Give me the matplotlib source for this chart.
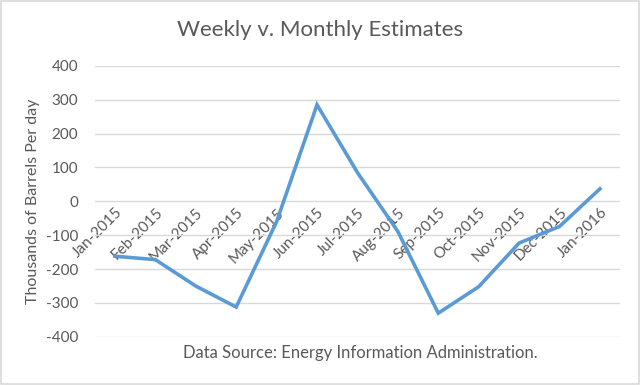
import matplotlib.pyplot as plt

months = ["Jan-2015", "Feb-2015", "Mar-2015", "Apr-2015", "May-2015", "Jun-2015",
          "Jul-2015", "Aug-2015", "Sep-2015", "Oct-2015", "Nov-2015", "Dec-2015",
          "Jan-2016"]
estimates = [-162, -172, -250, -312, -60, 285, 85, -89, -330, -252, -123, -74, 37]
y_ticks = [-400, -300, -200, -100, 0, 100, 200, 300, 400]

plt.rcParams['font.family'] = ['Lato', 'DejaVu Sans']
text_col = '#595959'

fig = plt.figure(figsize=(6.4, 3.85), dpi=100)
ax = fig.add_axes([0.148, 0.125, 0.821, 0.704])

# light frame around the whole chart
fig.patches.append(plt.Rectangle((0.002, 0.003), 0.996, 0.994, transform=fig.transFigure,
                                 fill=False, edgecolor='#D9D9D9', linewidth=1.2))

x = list(range(len(months)))
ax.plot(x, estimates, color='#5B9BD5', linewidth=2.6, solid_joinstyle='miter')

ax.set_xlim(-0.5, len(months) - 0.5)
ax.set_ylim(-400, 400)
ax.set_yticks(y_ticks)
ax.set_yticklabels([str(v) for v in y_ticks], color=text_col, fontsize=11)
ax.yaxis.grid(True, color='#D9D9D9', linewidth=1)
ax.set_axisbelow(True)

# category labels sit on the zero line like in Excel
ax.spines['bottom'].set_position(('data', 0))
for s in ax.spines.values():
    s.set_visible(False)
ax.set_xticks(x)
ax.set_xticklabels(months, rotation=45, ha='right', rotation_mode='anchor',
                   color=text_col, fontsize=11)
ax.tick_params(axis='both', length=0)
ax.tick_params(axis='x', pad=3)
ax.tick_params(axis='y', pad=12)

ax.set_ylabel("Thousands of Barrels Per day", color=text_col, fontsize=11.5, labelpad=4)

fig.text(0.5, 0.922, "Weekly v. Monthly Estimates", ha='center', va='center',
         color=text_col, fontsize=16)
fig.text(0.563, 0.083, "Data Source: Energy Information Administration.", ha='center',
         va='center', color=text_col, fontsize=12)

fig.savefig("out.png", dpi=100)
